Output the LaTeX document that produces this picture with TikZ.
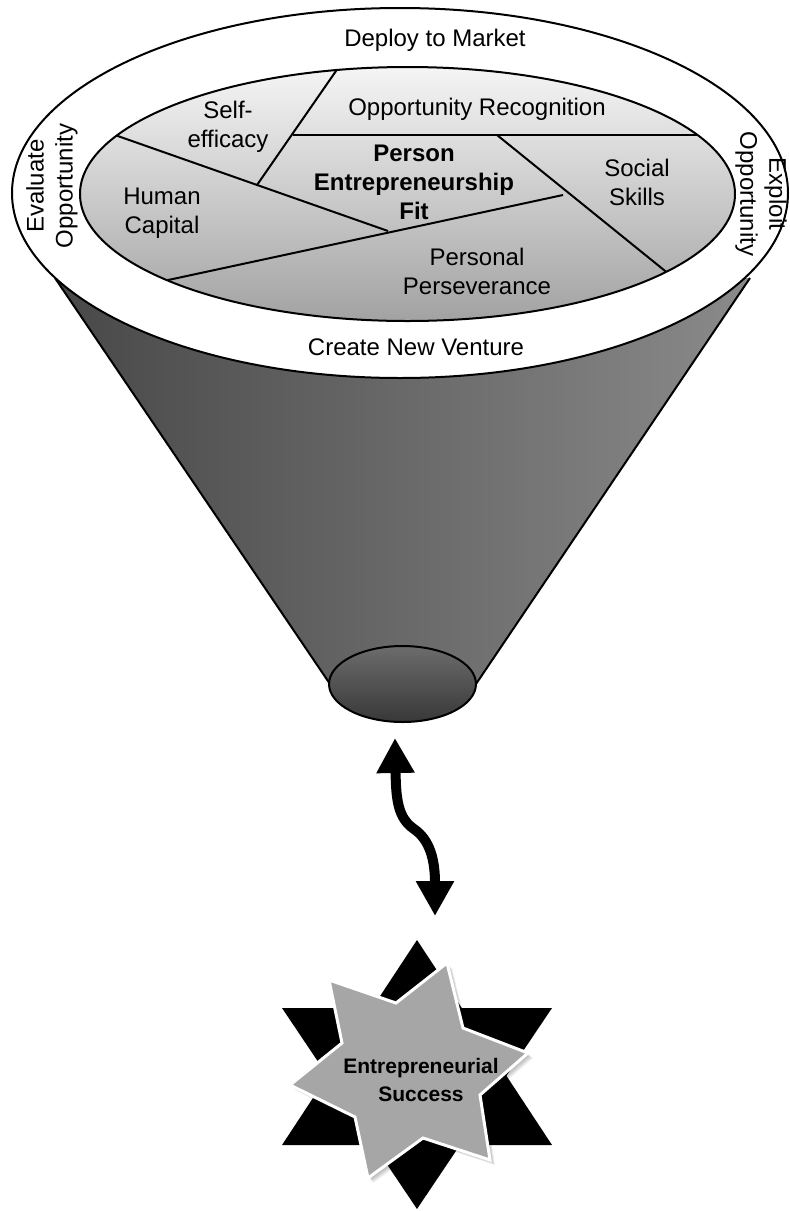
\documentclass[tikz,border=0pt]{standalone}
\usepackage{fontspec}
\setmainfont{Liberation Sans}
\usetikzlibrary{arrows.meta}
\definecolor{funnelL}{HTML}{484848}
\definecolor{funnelR}{HTML}{8A8A8A}
\definecolor{discTop}{HTML}{F5F5F5}
\definecolor{discBot}{HTML}{A2A2A2}
\definecolor{mouthTop}{HTML}{6C6C6C}
\definecolor{mouthBot}{HTML}{383838}
\definecolor{starGray}{HTML}{A6A6A6}
\begin{document}
\begin{tikzpicture}[x=1pt,y=-1pt,
  outline/.style={draw=black, line width=2pt},
  divider/.style={draw=black, line width=2pt},
  lbl/.style={font=\fontsize{24}{29}\selectfont, align=center, inner sep=0pt},
  lblb/.style={lbl, font=\fontsize{24}{29}\selectfont\bfseries},
  starlbl/.style={font=\fontsize{21}{28}\selectfont\bfseries, align=center, inner sep=0pt},
  grayStar/.style={insert path={(329,980) -- (396,1003) -- (447,963) -- (463,1028)
      -- (528,1053) -- (480,1095) -- (490,1160) -- (423,1138) -- (368,1178)
      -- (355,1117) -- (290,1085) -- (342,1043) -- cycle}},
  softshadow/.style={fill=black, opacity=0.07},
  bigarrow/.style={line width=10pt, {Triangle[width=36pt,length=35pt]}-{Triangle[width=36pt,length=35pt]}}
]
\useasboundingbox (0,0) rectangle (790,1211);

% funnel body
\fill[left color=funnelL, right color=funnelR]
  (55,278) -- (330,684) -- (476,684) -- (750,278) -- cycle;
\coordinate (fl1) at (55,278);  \coordinate (fl2) at (330,684);
\coordinate (fr1) at (750,278); \coordinate (fr2) at (476,684);
\draw[outline] (fl1) -- (fl2);
\draw[outline] (fr1) -- (fr2);

% funnel mouth
\path[outline, top color=mouthTop, bottom color=mouthBot]
  (402.5,684) ellipse [x radius=73.5, y radius=38];
\node (mouth) at (402.5,684) {};

% outer ring and inner disc
\path[outline, fill=white] (400,193) ellipse [x radius=388, y radius=185];
\path[top color=discTop, bottom color=discBot]
  (407.5,194) ellipse [x radius=327.5, y radius=127];

% dividers inside the disc
\begin{scope}
  \clip (407.5,194) ellipse [x radius=327.5, y radius=127];
  \coordinate (a1) at (345,58);   \coordinate (a2) at (257,185);
  \coordinate (b1) at (293,135);  \coordinate (b2) at (720,135);
  \coordinate (c1) at (95,128);   \coordinate (c2) at (388,231);
  \coordinate (d1) at (145,285);  \coordinate (d2) at (563,195);
  \coordinate (e1) at (497,135);  \coordinate (e2) at (680,283);
  \draw[divider] (a1) -- (a2);
  \draw[divider] (b1) -- (b2);
  \draw[divider] (c1) -- (c2);
  \draw[divider] (d1) -- (d2);
  \draw[divider] (e1) -- (e2);
\end{scope}
\path[outline] (407.5,194) ellipse [x radius=327.5, y radius=127];

% ring labels
\node[lbl] (deploy) at (435,40) {Deploy to Market};
\node[lbl] (create) at (416,347) {Create New Venture};
\node[lbl, rotate=90] (evaluate) at (52,186) {Evaluate\\Opportunity};
\node[lbl, rotate=-90] (exploit) at (761,194) {Exploit\\Opportunity};

% disc labels
\node[lbl] (self) at (228,127) {Self-\\efficacy};
\node[lbl] (opprec) at (477,109) {Opportunity Recognition};
\node[lblb] (pef) at (414,182) {Person\\Entrepreneurship\\Fit};
\node[lbl] (social) at (637,182) {Social\\Skills};
\node[lbl] (human) at (162,213) {Human\\Capital};
\node[lbl] (persev) at (477,271) {Personal\\Perseverance};

% outcome star
\fill[black] (417,940) -- (552,1145) -- (282,1145) -- cycle;
\fill[black] (282,1008) -- (552,1008) -- (417,1209) -- cycle;
\foreach \s in {1,2,3,4,5}
  \path[softshadow, xshift=\s pt, yshift=-\s pt] [grayStar];
\path[fill=starGray, draw=white, line width=3pt, line join=miter] [grayStar];
\node[starlbl] (success) at (421,1080) {Entrepreneurial\\Success};

% two-way link between funnel and outcome
\coordinate (arrTop) at (395,738);
\coordinate (arrBot) at (435,916);
\draw[bigarrow] (arrTop) .. controls (396,800) and (398,818) .. (414,829)
  .. controls (430,840) and (435,860) .. (arrBot);
\end{tikzpicture}
\end{document}
